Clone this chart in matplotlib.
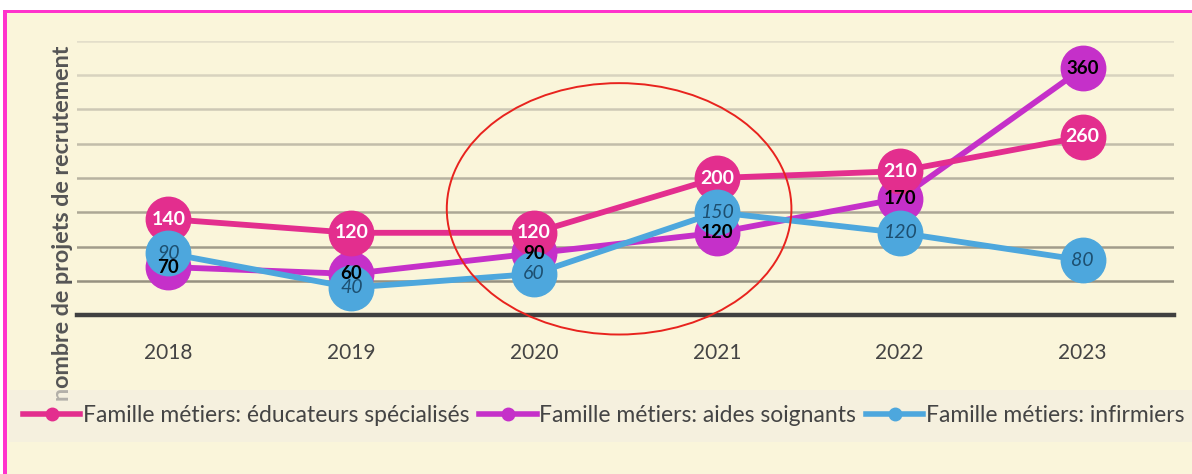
import matplotlib
matplotlib.use("Agg")
import matplotlib.pyplot as plt
from matplotlib.lines import Line2D
from matplotlib.patches import Rectangle, Ellipse
import numpy as np

plt.rcParams['font.family'] = ['Lato', 'DejaVu Sans']

years = ["2018", "2019", "2020", "2021", "2022", "2023"]
educateurs = [140, 120, 120, 200, 210, 260]
aides_soignants = [70, 60, 90, 120, 170, 360]
infirmiers = [90, 40, 60, 150, 120, 80]
series_names = ["Famille métiers: éducateurs spécialisés",
                "Famille métiers: aides soignants",
                "Famille métiers: infirmiers"]
y_label = "nombre de projets de recrutement"
grid_values = [50, 100, 150, 200, 250, 300, 350, 400]

c_edu = "#E32E8E"
c_aid = "#C530C9"
c_inf = "#4DA7DD"
bg = "#FAF5DA"

fig = plt.figure(figsize=(11.92, 4.74), dpi=100)
fig.patch.set_facecolor("white")

# cream panel with pink frame
fig.add_artist(Rectangle((4/1192, 0), 1, 1 - 10/474, transform=fig.transFigure,
                         facecolor=bg, edgecolor="none", zorder=-10))
fig.add_artist(Rectangle((3/1192, 1 - 13/474), 1, 3.5/474, transform=fig.transFigure,
                         facecolor="#FF33CC", edgecolor="none", zorder=-9))
fig.add_artist(Rectangle((3/1192, 0), 3.5/1192, 1 - 10/474, transform=fig.transFigure,
                         facecolor="#FF33CC", edgecolor="none", zorder=-9))
# legend band (semi-transparent, drawn over the y label's first letter)
fig.add_artist(Rectangle((9/1192, 32/474), 1, 52/474, transform=fig.transFigure,
                         facecolor=(242/255, 237/255, 226/255), alpha=0.6,
                         edgecolor="none", zorder=4))

ax = fig.add_axes([77/1192, 159/474, 1097/1192, 274/474])
ax.set_facecolor("none")
x = np.arange(len(years))
ax.set_xlim(-0.5, len(years) - 0.5)
ax.set_ylim(0, 400)

# gridlines darker toward bottom
dark = np.array([0x96, 0x91, 0x80]) / 255
light = np.array([0xE3, 0xDE, 0xCA]) / 255
for i, g in enumerate(grid_values):
    t = i / (len(grid_values) - 1)
    col = dark * (1 - t) + light * t
    ax.axhline(g, color=col, lw=1.8, zorder=0)
ax.axhline(0, color="#404040", lw=3.2, zorder=1, clip_on=False)

for s in ax.spines.values():
    s.set_visible(False)
ax.set_yticks([])
ax.set_xticks(x)
ax.set_xticklabels(years, fontsize=15, color="#444444")
ax.tick_params(axis="x", length=0, pad=20)

ms = 32
lw = 4.2
ax.plot(x, aides_soignants, color=c_aid, lw=lw, marker="o", ms=ms, zorder=2, clip_on=False)
ax.plot(x, educateurs, color=c_edu, lw=lw, marker="o", ms=ms, zorder=3, clip_on=False)
ax.plot(x, infirmiers, color=c_inf, lw=lw, marker="o", ms=ms, zorder=4, clip_on=False)

for xi, v in zip(x, educateurs):
    ax.text(xi, v, str(v), ha="center", va="center", color="white",
            fontsize=14, fontweight="bold", zorder=6)
for xi, v in zip(x, aides_soignants):
    ax.text(xi, v, str(v), ha="center", va="center", color="black",
            fontsize=13.5, fontweight="bold", zorder=6)
for xi, v in zip(x, infirmiers):
    ax.text(xi, v, str(v), ha="center", va="center", color="#1D4F70",
            fontsize=14, fontstyle="italic", zorder=6)

# red ellipse annotation around 2020-2021
ell = Ellipse((2.465, 155), 1.885, 367, transform=ax.transData, fill=False,
              edgecolor="#E8231E", lw=1.4, zorder=7, clip_on=False)
ax.add_patch(ell)

fig.text(63/1192, 1 - 223/474, y_label, rotation=90, ha="center", va="center",
         fontsize=16.8, fontweight="bold", color="#555555", zorder=3)

handles = [Line2D([0], [0], color=c, lw=4, marker="o", ms=9) for c in (c_edu, c_aid, c_inf)]
leg = fig.legend(handles, series_names, loc="center left", bbox_to_anchor=(23/1192, 58/474),
                 ncol=3, frameon=False, fontsize=16.5, handlelength=2.5, handletextpad=0.1,
                 columnspacing=0.45, labelcolor="#444444", borderaxespad=0, borderpad=0)
leg.set_zorder(5)

fig.savefig("out.png", dpi=100, facecolor=fig.get_facecolor())
